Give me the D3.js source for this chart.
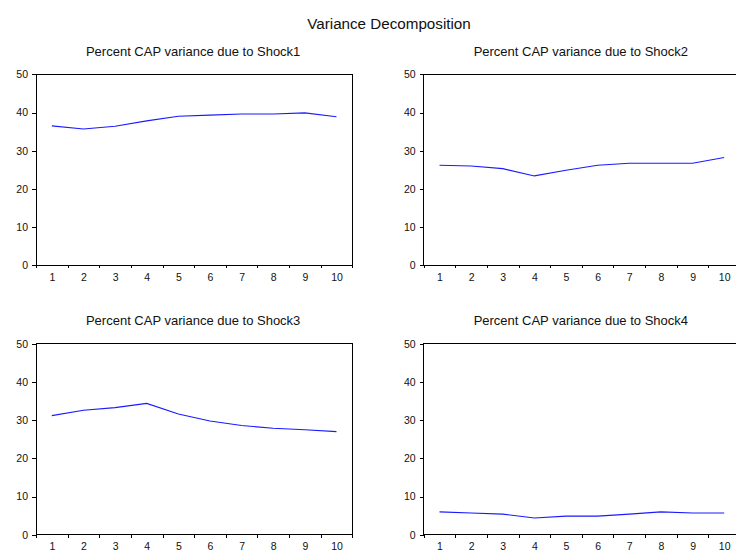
<!DOCTYPE html>
<html>
<head>
<meta charset="utf-8">
<script src="https://cdn.jsdelivr.net/npm/d3@7"></script>
<style>
  html, body { margin: 0; padding: 0; background: #fff; }
  svg { display: block; }
  text { font-family: "Liberation Sans", Arial, sans-serif; fill: #111; }
</style>
</head>
<body>
<svg id="chart" width="736" height="550"></svg>
<script>
const periods = [1, 2, 3, 4, 5, 6, 7, 8, 9, 10];
const shock1 = [36.5, 35.7, 36.4, 37.8, 39.0, 39.3, 39.6, 39.6, 39.9, 38.9];
const shock2 = [26.2, 26.0, 25.3, 23.4, 24.9, 26.2, 26.7, 26.7, 26.7, 28.2];
const shock3 = [31.2, 32.6, 33.3, 34.4, 31.6, 29.8, 28.6, 27.9, 27.5, 27.0];
const shock4 = [6.0, 5.7, 5.4, 4.4, 4.9, 4.9, 5.4, 6.0, 5.7, 5.7];
const yTicks = [0, 10, 20, 30, 40, 50];
const mainTitle = "Variance Decomposition";
const panelTitles = [
  "Percent CAP variance due to Shock1",
  "Percent CAP variance due to Shock2",
  "Percent CAP variance due to Shock3",
  "Percent CAP variance due to Shock4"
];
const seriesList = [shock1, shock2, shock3, shock4];

const svg = d3.select("#chart");

svg.append("text")
  .attr("x", 389).attr("y", 28.5)
  .attr("text-anchor", "middle")
  .style("font-size", "15.2px")
  .text(mainTitle);

const panelW = 316.3, panelH = 191;
const lefts = [36, 423.7];
const tops = [74.3, 343.8];

seriesList.forEach((vals, i) => {
  const col = i % 2, row = Math.floor(i / 2);
  const x0 = lefts[col], y0 = tops[row];
  const g = svg.append("g").attr("transform", `translate(${x0},${y0})`);

  const x = d3.scaleLinear().domain([0.5, 10.5]).range([0, panelW]);
  const y = d3.scaleLinear().domain([0, 50]).range([panelH, 0]);

  // panel title
  svg.append("text")
    .attr("x", x0 + panelW / 2 - 1)
    .attr("y", y0 - 18.5)
    .attr("text-anchor", "middle")
    .style("font-size", "13px")
    .text(panelTitles[i]);

  // frame
  g.append("rect")
    .attr("x", 0).attr("y", 0)
    .attr("width", panelW).attr("height", panelH)
    .attr("fill", "none").attr("stroke", "#000").attr("stroke-width", 1)
    .attr("shape-rendering", "crispEdges");

  // y axis
  const ya = g.append("g").call(
    d3.axisLeft(y).tickValues(yTicks).tickSize(4).tickPadding(4).tickFormat(d3.format("d"))
  );
  ya.select(".domain").remove();
  ya.selectAll("line").attr("stroke", "#000").attr("shape-rendering", "crispEdges");
  ya.selectAll("text").style("font-size", "10.5px").style("font-family", '"Liberation Sans", Arial, sans-serif').attr("fill", "#111");

  // x tick marks at band boundaries
  const boundaries = d3.range(0.5, 11, 1);
  const xm = g.append("g").attr("transform", `translate(0,${panelH})`).call(
    d3.axisBottom(x).tickValues(boundaries).tickSize(3).tickFormat("")
  );
  xm.select(".domain").remove();
  xm.selectAll("line").attr("stroke", "#000").attr("shape-rendering", "crispEdges");

  // x labels at period centers
  const xl = g.append("g").attr("transform", `translate(0,${panelH})`).call(
    d3.axisBottom(x).tickValues(periods).tickSize(0).tickPadding(8).tickFormat(d3.format("d"))
  );
  xl.select(".domain").remove();
  xl.selectAll("text").style("font-size", "10.5px").style("font-family", '"Liberation Sans", Arial, sans-serif').attr("fill", "#111");

  // line
  const line = d3.line().x((d, k) => x(periods[k])).y(d => y(d));
  g.append("path")
    .datum(vals)
    .attr("d", line)
    .attr("fill", "none")
    .attr("stroke", "#1a1aff")
    .attr("stroke-width", 1.1);
});
</script>
</body>
</html>
